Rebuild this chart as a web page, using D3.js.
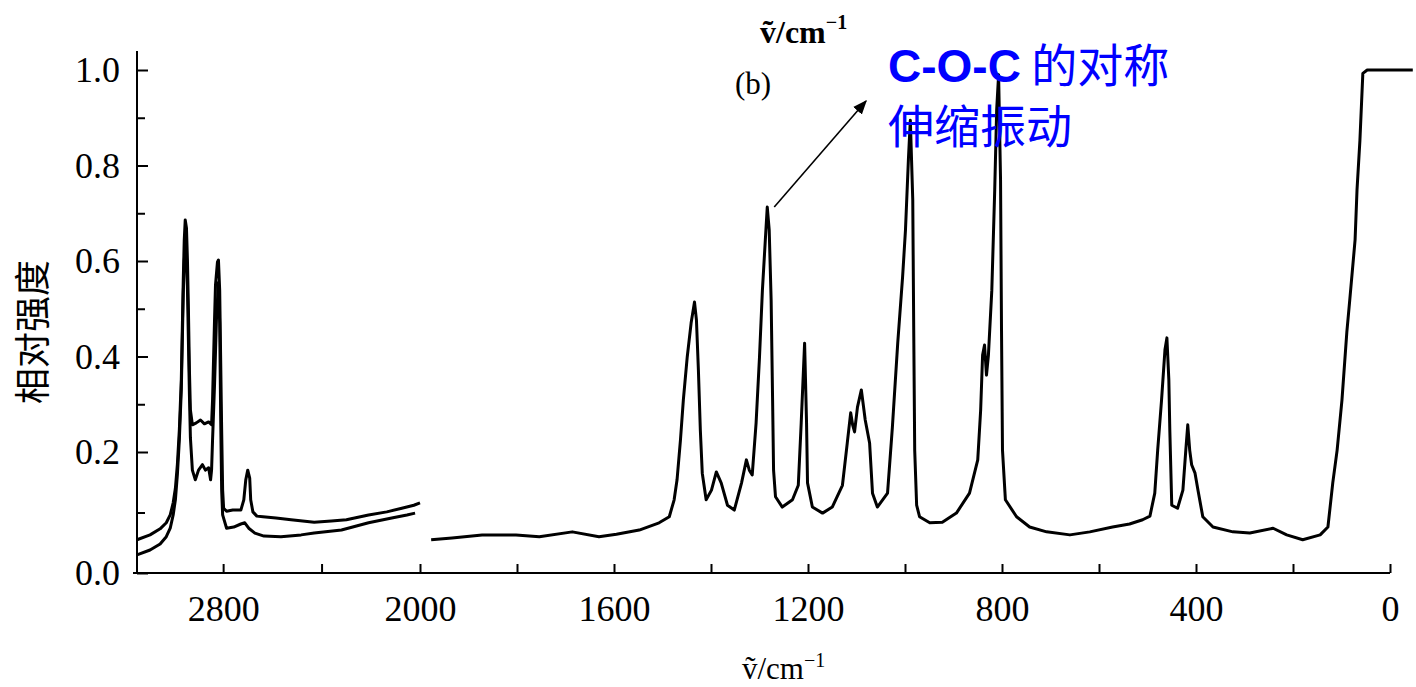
<!DOCTYPE html>
<html>
<head>
<meta charset="utf-8">
<script src="https://cdn.jsdelivr.net/npm/d3@7"></script>
<style>
body { margin: 0; background: #fff; }
</style>
</head>
<body>
<div id="chart"></div>
<script>
// left panel: two traces, 3150-2000 cm-1 (compressed scale)
const leftWnA = [3150,3097,3056,3031,3015,3003,2994,2986,2978,2970,2966,2962,2958,2954,2949,2945,2941,2937,2933,2925,2909,2892,2876,2859,2847,2843,2839,2835,2831,2823,2819,2814,2810,2806,2802,2798,2786,2761,2728,2716,2708,2700,2692,2688,2679,2663,2638,2585,2524,2430,2360,2299,2209,2135,2074,2025,2000];
const leftIntA = [0.055,0.063,0.073,0.083,0.096,0.116,0.140,0.179,0.246,0.351,0.455,0.560,0.644,0.686,0.669,0.602,0.497,0.372,0.288,0.257,0.261,0.267,0.259,0.263,0.257,0.309,0.393,0.476,0.550,0.598,0.602,0.539,0.393,0.246,0.137,0.107,0.102,0.104,0.104,0.121,0.154,0.170,0.157,0.121,0.101,0.094,0.093,0.091,0.088,0.084,0.086,0.088,0.096,0.101,0.107,0.112,0.116];
const leftWnB = [3150,3097,3056,3031,3015,3003,2994,2986,2978,2970,2966,2962,2958,2954,2949,2945,2941,2937,2933,2925,2913,2900,2884,2872,2859,2851,2847,2843,2835,2827,2819,2814,2810,2806,2802,2786,2757,2728,2712,2696,2671,2634,2565,2483,2430,2319,2209,2115,2053,2020];
const leftIntB = [0.030,0.038,0.048,0.060,0.074,0.096,0.121,0.162,0.225,0.330,0.430,0.530,0.600,0.630,0.610,0.540,0.430,0.320,0.230,0.170,0.154,0.170,0.179,0.170,0.174,0.154,0.170,0.225,0.340,0.480,0.555,0.470,0.275,0.137,0.096,0.074,0.076,0.081,0.083,0.074,0.066,0.061,0.060,0.063,0.066,0.071,0.083,0.091,0.096,0.099];

// right panel: 2000-0 cm-1
const rightWn = [1977,1934,1872,1802,1754,1686,1631,1595,1548,1507,1486,1476,1470,1463,1457,1449,1441,1434,1430,1426,1422,1418,1410,1399,1389,1379,1366,1352,1337,1327,1321,1315,1307,1300,1294,1288,1284,1280,1276,1273,1271,1267,1253,1232,1220,1214,1207,1203,1201,1191,1170,1150,1129,1119,1112,1108,1104,1098,1090,1082,1073,1067,1057,1036,1026,1015,1005,999,993,989,984,982,980,976,970,949,923,894,867,850,844,840,836,832,828,821,815,811,807,803,801,799,793,770,743,708,660,619,572,537,510,495,485,479,471,464,460,456,454,450,438,427,421,417,413,409,402,396,386,365,324,289,241,213,180,144,128,118,109,99,89,83,72,68,62,56,47,-47];
const rightInt = [0.055,0.058,0.063,0.063,0.060,0.068,0.060,0.064,0.071,0.083,0.093,0.121,0.154,0.225,0.309,0.399,0.470,0.514,0.476,0.372,0.246,0.165,0.121,0.137,0.167,0.149,0.112,0.104,0.149,0.187,0.170,0.162,0.261,0.399,0.539,0.644,0.713,0.665,0.518,0.309,0.170,0.126,0.109,0.121,0.145,0.261,0.428,0.261,0.149,0.109,0.099,0.109,0.145,0.219,0.282,0.257,0.242,0.294,0.330,0.267,0.219,0.132,0.109,0.132,0.252,0.428,0.566,0.665,0.812,0.895,0.728,0.455,0.204,0.112,0.093,0.083,0.084,0.099,0.132,0.187,0.288,0.403,0.424,0.361,0.403,0.539,0.749,0.916,0.990,0.770,0.455,0.204,0.121,0.093,0.076,0.068,0.063,0.068,0.076,0.081,0.088,0.094,0.132,0.204,0.309,0.414,0.439,0.351,0.246,0.112,0.107,0.137,0.204,0.257,0.204,0.179,0.165,0.137,0.093,0.076,0.068,0.066,0.074,0.063,0.055,0.063,0.076,0.149,0.204,0.309,0.451,0.518,0.644,0.749,0.853,0.993,1.0,1.0];

const yTicks = [0, 0.2, 0.4, 0.6, 0.8, 1.0];
const yMinorTicks = [0.1, 0.3, 0.5, 0.7, 0.9];
const leftXTicks = [2800, 2400, 2000];
const rightXTicks = [1800, 1600, 1400, 1200, 1000, 800, 600, 400, 200, 0];
const labelledX = [2800, 2000, 1600, 1200, 800, 400, 0];

const width = 1416, height = 687;
const serif = "'Liberation Serif', 'DejaVu Serif', serif";
const cjk = "'Noto Sans CJK SC', sans-serif";

const svg = d3.select("#chart").append("svg")
    .attr("width", width)
    .attr("height", height)
    .style("background", "white");

// the scanned axis is not quite linear near zero, so the y scale is piecewise
const y = d3.scaleLinear().domain([0, 0.2, 1]).range([573, 452, 70]);
const xL = d3.scaleLinear().domain([3150, 2000]).range([137, 420]);
const xR = d3.scaleLinear().domain([2000, 0]).range([420, 1390]);

// axis lines
svg.append("line")
    .attr("x1", xL(3150) - 4).attr("x2", xR(0))
    .attr("y1", y(0)).attr("y2", y(0))
    .style("stroke", "#000").style("stroke-width", 2);
svg.append("line")
    .attr("x1", xL(3150)).attr("x2", xL(3150))
    .attr("y1", y(0)).attr("y2", y(1.04))
    .style("stroke", "#000").style("stroke-width", 2);

function styleAxis(g) {
    g.select(".domain").remove();
    g.selectAll(".tick line").style("stroke", "#000").style("stroke-width", 2);
    g.selectAll(".tick text")
        .style("font-family", serif)
        .style("font-size", "36px")
        .style("fill", "#000");
}

const fmtX = d => labelledX.includes(d) ? String(d) : "";

svg.append("g")
    .attr("transform", "translate(0," + y(0) + ")")
    .call(d3.axisBottom(xL).tickValues(leftXTicks).tickSize(-9).tickPadding(22).tickFormat(fmtX))
    .call(styleAxis);
svg.append("g")
    .attr("transform", "translate(0," + y(0) + ")")
    .call(d3.axisBottom(xR).tickValues(rightXTicks).tickSize(-9).tickPadding(22).tickFormat(fmtX))
    .call(styleAxis);

svg.append("g")
    .attr("transform", "translate(" + xL(3150) + ",0)")
    .call(d3.axisLeft(y).tickValues(yTicks).tickSize(-11).tickPadding(17).tickFormat(d3.format(".1f")))
    .call(styleAxis);
svg.append("g")
    .attr("transform", "translate(" + xL(3150) + ",0)")
    .call(d3.axisLeft(y).tickValues(yMinorTicks).tickSize(-8).tickFormat(""))
    .call(styleAxis);

// spectra
const traceStyle = p => p.style("fill", "none")
    .style("stroke", "#000")
    .style("stroke-width", 3)
    .style("stroke-linejoin", "round");

const lineL = d3.line().x(d => xL(d[0])).y(d => y(d[1]));
const lineR = d3.line().x(d => xR(d[0])).y(d => y(d[1]));

svg.append("path").datum(d3.zip(leftWnA, leftIntA)).attr("d", lineL).call(traceStyle);
svg.append("path").datum(d3.zip(leftWnB, leftIntB)).attr("d", lineL).call(traceStyle);
svg.append("path").datum(d3.zip(rightWn, rightInt)).attr("d", lineR).call(traceStyle);

// labels
svg.append("text")
    .attr("transform", "translate(46," + 332 + ") rotate(-90)")
    .attr("text-anchor", "middle")
    .style("font-family", cjk)
    .style("font-size", "36px")
    .text("相对强度");

const bottomTitle = svg.append("text")
    .attr("x", 742).attr("y", 679)
    .style("font-family", serif)
    .style("font-size", "31px");
bottomTitle.append("tspan").text("ṽ/cm");
bottomTitle.append("tspan").attr("dy", -12).style("font-size", "20px").text("−1");

const topTitle = svg.append("text")
    .attr("x", 760).attr("y", 43)
    .style("font-family", serif)
    .style("font-size", "32px")
    .style("font-weight", "bold");
topTitle.append("tspan").text("ṽ/cm");
topTitle.append("tspan").attr("dy", -14).style("font-size", "20px").text("−1");

svg.append("text")
    .attr("x", 735).attr("y", 94)
    .style("font-family", serif)
    .style("font-size", "31px")
    .text("(b)");

// annotation
svg.append("defs").append("marker")
    .attr("id", "arrow")
    .attr("viewBox", "0 0 10 10")
    .attr("refX", 9).attr("refY", 5)
    .attr("markerWidth", 9).attr("markerHeight", 9)
    .attr("orient", "auto")
    .append("path")
    .attr("d", "M0,1L10,5L0,9Z")
    .style("fill", "#000");

svg.append("line")
    .attr("x1", xR(1284) + 7).attr("y1", y(0.713))
    .attr("x2", 866).attr("y2", 101)
    .style("stroke", "#000")
    .style("stroke-width", 1.6)
    .attr("marker-end", "url(#arrow)");

const note = svg.append("text")
    .style("fill", "#0000ff")
    .style("font-size", "46px");
note.append("tspan")
    .attr("x", 888).attr("y", 82)
    .style("font-family", "'Liberation Sans', Arial, sans-serif")
    .style("font-weight", "bold")
    .text("C-O-C");
note.append("tspan")
    .style("font-family", cjk)
    .text(" 的对称");
note.append("tspan")
    .attr("x", 888).attr("y", 143)
    .style("font-family", cjk)
    .text("伸缩振动");
</script>
</body>
</html>
